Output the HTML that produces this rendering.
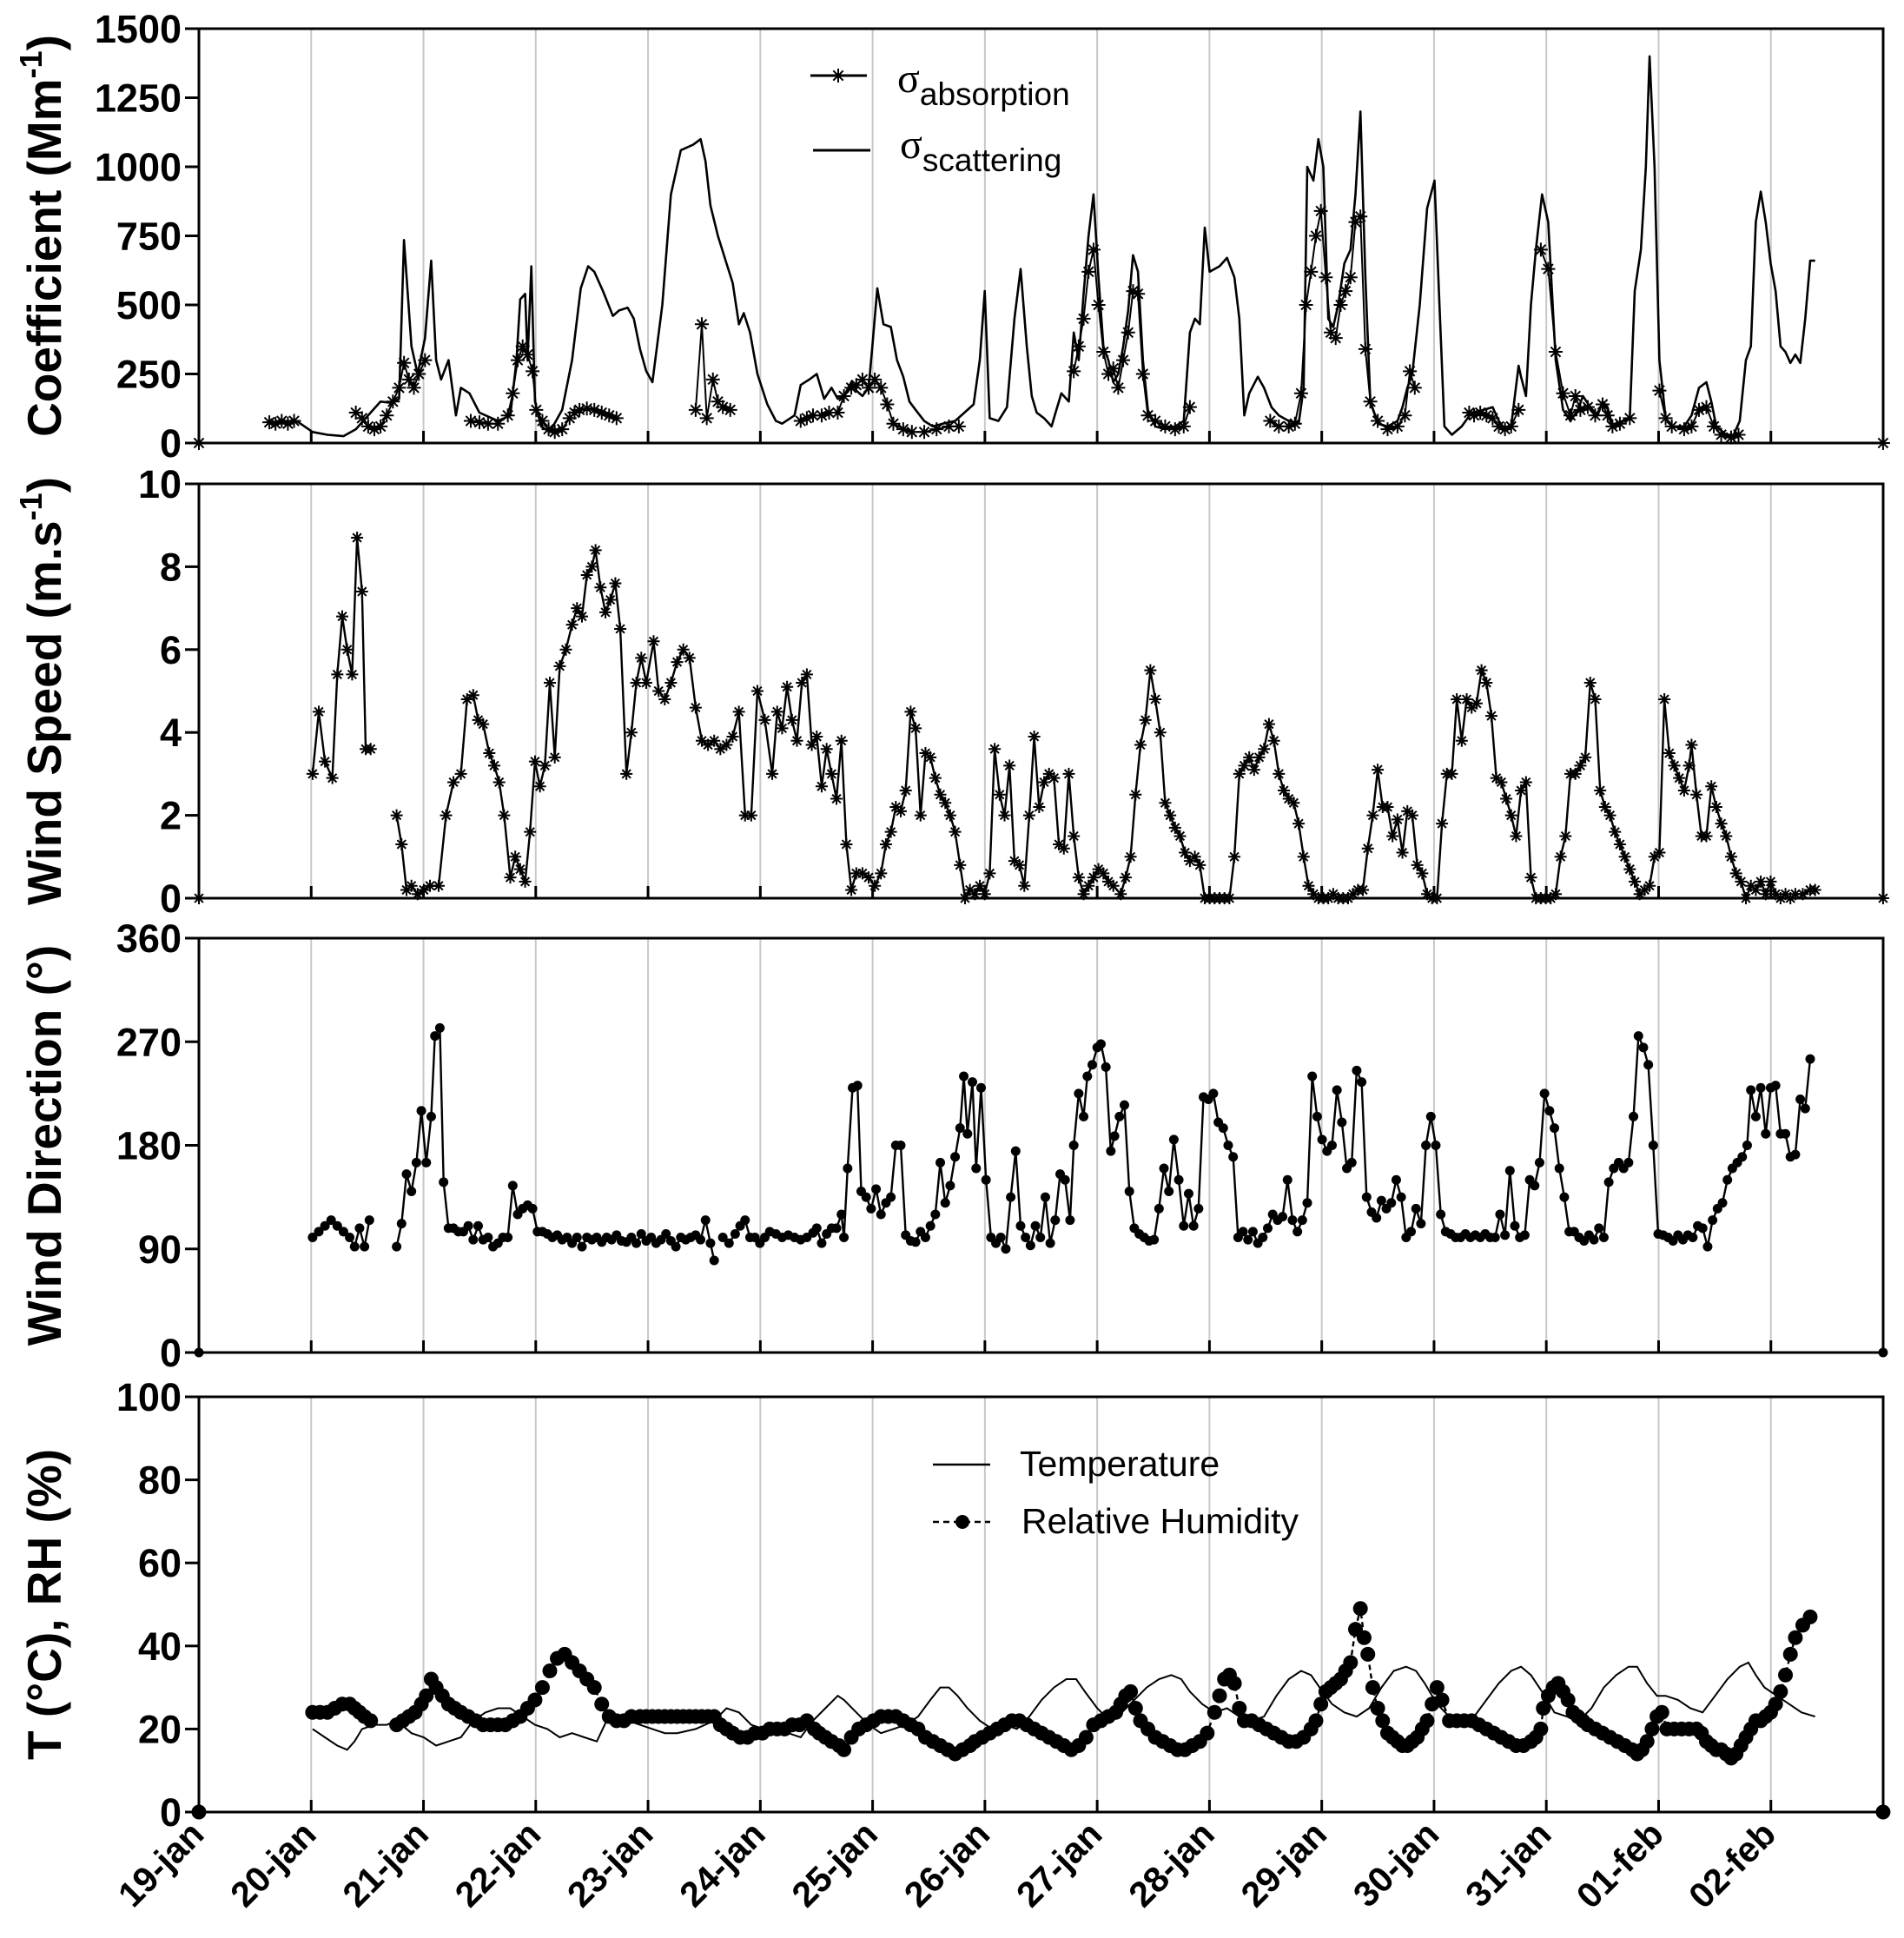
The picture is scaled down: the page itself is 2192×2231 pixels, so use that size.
<!DOCTYPE html>
<html><head><meta charset="utf-8">
<style>
html,body{margin:0;padding:0;background:#fff;}
svg{display:block;font-family:"Liberation Sans",Arial,sans-serif;}
</style></head>
<body>
<svg id="chart" width="2192" height="2231" viewBox="0 0 2192 2231" xmlns="http://www.w3.org/2000/svg">
<rect width="2192" height="2231" fill="#fff"/>
<g id="grid"></g>
<g id="axes"></g>
<g id="marks"></g>
<g id="legends">
  <g>
    <line x1="933" y1="87" x2="998" y2="87" stroke="#000" stroke-width="3"/>
    <path d="M957,87L973,87M965,79L965,95M959.3,81.3L970.7,92.7M959.3,92.7L970.7,81.3" stroke="#000" stroke-width="2" fill="none"/>
    <text x="1033" y="106" font-family="Liberation Serif, serif" font-size="48">σ<tspan font-family="Liberation Sans, sans-serif" font-size="37" dy="15">absorption</tspan></text>
  </g>
  <g>
    <line x1="936" y1="173" x2="1002" y2="173" stroke="#000" stroke-width="3"/>
    <text x="1036" y="182" font-family="Liberation Serif, serif" font-size="48">σ<tspan font-family="Liberation Sans, sans-serif" font-size="37" dy="15">scattering</tspan></text>
  </g>
  <g>
    <line x1="1074" y1="1686" x2="1140" y2="1686" stroke="#000" stroke-width="2.5"/>
    <text x="1174" y="1699" font-size="41">Temperature</text>
  </g>
  <g>
    <line x1="1074" y1="1752" x2="1140" y2="1752" stroke="#000" stroke-width="2.5" stroke-dasharray="7,5"/>
    <circle cx="1108" cy="1752" r="8" fill="#000"/>
    <text x="1176" y="1765" font-size="41">Relative Humidity</text>
  </g>
</g>
</svg>
<script>
// time values below are in chart time units: (t - 158) / 90.87 = days since 19-jan
const scatTime=[237,250,262,275,285,297,305,315,320,324,330,335,341,346,350,354,360,366,370,377,385,400,410,415,418,422,424,427,430,435,442,452,460,467,473,478,485,493,498,505,510,515,520,525,533,540,548,558,564,568,572,578,585,590,595,599,604,610,618,625,630,640,645,652,658,664,670,675,680,686,690,695,700,703,707,712,718,723,728,733,738,745,752,760,770,785,790,794,798,805,812,818,823,828,832,836,842,848,852,856,862,866,870,874,878,882,886,890,894,898,902,906,910,914,918,922,926,932,940,948,955,960,964,968,972,976,984,990,996,1000,1004,1008,1015,1020,1026,1032,1040,1048,1052,1055,1060,1064,1068,1072,1076,1080,1085,1090,1094,1098,1102,1106,1112,1120,1128,1132,1136,1140,1146,1152,1158,1162,1166,1172,1180,1188,1198,1205,1210,1215,1220,1226,1228,1232,1236,1240,1245,1250,1256,1262,1268,1274,1278,1284,1290,1294,1298,1302,1310,1316,1320,1325,1329,1332,1336,1340,1345,1350,1360,1366,1372,1378,1382,1386,1394,1400,1405,1410,1414,1418,1422,1426,1430,1434,1438,1442,1446,1450,1454,1458,1462,1466];
const scatVals=[80,40,30,25,50,110,150,145,160,735,350,250,380,660,300,230,300,100,200,180,110,80,100,300,520,540,300,640,150,60,40,120,300,560,640,620,550,460,480,490,450,340,260,220,500,900,1060,1080,1100,1020,860,750,650,580,430,470,400,250,140,80,70,100,210,230,250,160,200,160,170,220,190,170,200,350,560,430,420,300,240,150,120,80,60,70,80,140,300,550,90,80,130,450,630,350,170,110,90,60,120,180,150,400,300,540,750,900,600,350,300,220,250,350,480,680,620,300,120,60,50,60,80,400,450,430,780,620,640,670,600,450,100,180,240,200,130,100,80,70,200,1000,950,1100,1000,450,420,500,650,700,900,1200,600,150,70,60,80,130,200,250,500,850,950,500,60,30,60,110,120,130,80,50,60,280,240,170,500,700,900,800,300,120,80,120,170,130,100,150,130,60,80,90,550,700,1000,1400,1000,300,90,60,60,100,200,220,150,60,30,30,80,300,350,800,910,800,650,550,350,330,290,320,290,450,660,660];

const absSegTime=[
 [215,220,225,230,235],
 [285,290,295,300,305,310,315,320,324,328,332,336,341],
 [378,385,392,400,408,412,416,420,424,428,431,436,441,446,452,458,462,466,472,478,484,490,496],
 [560,565,569,574,578,582,588],
 [645,650,655,662,668,675,680,686,690,695,700,705,710,715,720,728,735,745,755,765,773],
 [866,870,874,878,882,886,890,894,898,902,906,910,914,918,922,926,932,940,948,955,960],
 [1025,1032,1040,1045,1050,1054,1058,1062,1066,1070,1074,1078,1082,1086,1090,1094,1098,1102,1106,1112,1120,1128,1134,1138,1142],
 [1186,1190,1195,1200,1205,1210,1215,1220,1226],
 [1244,1250,1256,1262,1268,1272,1276,1282,1288,1294,1298,1302,1308,1316],
 [1340,1345,1350,1360,1366,1372,1378,1384,1390,1398,1404],
 [158],[1521]];
const absSegVals=[
 [75,70,80,70,80],
 [110,90,60,50,60,100,150,200,290,230,200,250,300],
 [80,75,70,70,100,180,300,350,320,260,120,80,50,40,50,90,110,120,125,120,110,100,90],
 [120,430,90,230,150,130,120],
 [80,90,100,100,110,110,170,200,210,230,200,230,200,140,70,50,40,40,50,60,60],
 [260,350,450,620,700,500,330,250,270,200,300,400,550,540,250,100,80,60,50,60,130],
 [80,60,60,70,180,500,620,750,840,600,400,380,500,550,600,800,820,340,150,80,50,60,100,260,200],
 [110,100,110,100,90,60,50,60,120],
 [700,630,330,180,100,170,120,130,100,140,100,60,70,90],
 [190,90,60,50,60,120,130,60,30,20,30],
 [0],[0]];

const wsSegTime=[
 [250,255,260,266,270,274,278,282,286,290,293,297],
 [318,322,326,330,335,340,345,352,358,364,370,375,380,384,388,393,397,401,405,410,414,418,422,426,430,434,438,442,446,450,455,460,464,468,472,476,479,483,487,491,495,499,504,508,512,516,520,526,530,535,540,545,550,555,560,565,570,575,580,585,590,595,600,605,610,616,622,626,630,634,638,642,646,650,654,658,662,666,670,674,678,682,686,690,695,700,705,710,714,718,722,726,730,734,738,742,746,750,754,758,762,766,770,774,778,782,786,790,794,798,802,806,810,814,818,822,826,830,834,838,842,846,850,854,858,862,866,870,874,878,882,886,890,894,898,904,908,912,916,920,924,928,932,936,940,944,948,952,956,960,964,968,972,976,980,984,988,992,996,1000,1004,1008,1012,1016,1020,1024,1028,1032,1036,1040,1044,1048,1052,1056,1060,1064,1068,1072,1076,1080,1084,1088,1092,1096,1100,1104,1108,1112,1116,1120,1124,1128,1132,1136,1140,1144,1148,1152,1156,1160,1164,1168,1172,1176,1180,1184,1188,1192,1196,1200,1204,1208,1212,1216,1220,1224,1228,1232,1236,1240,1244,1248,1252,1256,1260,1264,1268,1272,1276,1280,1284,1288,1292,1296,1300,1304,1308,1312,1316,1320,1324,1328,1332,1336,1340,1344,1348,1352,1356,1360,1364,1366,1370,1374,1378,1382,1386,1390,1394,1398,1402,1406,1410,1414,1418,1422,1426,1430,1434,1438,1442,1446,1450,1456,1462,1466],
 [158],[1521]];
const wsSegVals=[
 [3.0,4.5,3.3,2.9,5.4,6.8,6.0,5.4,8.7,7.4,3.6,3.6],
 [2.0,1.3,0.2,0.3,0.1,0.2,0.3,0.3,2.0,2.8,3.0,4.8,4.9,4.3,4.2,3.5,3.2,2.8,2.0,0.5,1.0,0.7,0.4,1.6,3.3,2.7,3.2,5.2,3.4,5.6,6.0,6.6,7.0,6.8,7.8,8.0,8.4,7.5,6.9,7.2,7.6,6.5,3.0,4.0,5.2,5.8,5.2,6.2,5.0,4.8,5.2,5.7,6.0,5.8,4.6,3.8,3.7,3.8,3.6,3.7,3.9,4.5,2.0,2.0,5.0,4.3,3.0,4.5,4.1,5.1,4.3,3.8,5.2,5.4,3.7,3.9,2.7,3.6,3.0,2.4,3.8,1.3,0.2,0.6,0.6,0.5,0.3,0.6,1.3,1.6,2.2,2.1,2.6,4.5,4.1,2.0,3.5,3.4,2.9,2.5,2.3,2.0,1.6,0.8,0.0,0.2,0.1,0.3,0.1,0.6,3.6,2.5,2.0,3.2,0.9,0.8,0.3,2.0,3.9,2.2,2.8,3.0,2.9,1.3,1.2,3.0,1.5,0.5,0.1,0.3,0.5,0.7,0.6,0.4,0.3,0.1,0.5,1.0,2.5,3.7,4.3,5.5,4.8,4.0,2.3,2.0,1.7,1.5,1.1,0.9,1.0,0.8,0.0,0.0,0.0,0.0,0.0,0.0,1.0,3.0,3.2,3.4,3.1,3.4,3.6,4.2,3.8,3.0,2.6,2.4,2.3,1.8,1.0,0.3,0.1,0.0,0.0,0.0,0.1,0.0,0.0,0.0,0.1,0.2,0.2,1.2,2.0,3.1,2.2,2.2,1.5,1.9,1.1,2.1,2.0,0.8,0.6,0.1,0.0,0.0,1.8,3.0,3.0,4.8,3.8,4.8,4.6,4.7,5.5,5.2,4.4,2.9,2.8,2.4,2.0,1.5,2.6,2.8,0.5,0.0,0.0,0.0,0.0,0.1,1.0,1.5,3.0,3.0,3.2,3.4,5.2,4.8,2.6,2.2,2.0,1.6,1.3,1.0,0.7,0.4,0.1,0.2,0.3,1.0,1.1,4.8,3.5,3.2,2.9,2.6,3.2,3.7,2.5,1.5,1.5,2.7,2.2,1.8,1.5,1.0,0.6,0.4,0.0,0.3,0.2,0.4,0.1,0.4,0.1,0.0,0.1,0.0,0.1,0.1,0.2,0.2],
 [0],[0]];

const wdSegTime=[
 [250,255,260,265,270,275,280,284,288,292,296],
 [318,322,326,330,334,338,342,346,349,353,356,360,364,368,372,376,380,384,388,392,396,400,404,408,412,416,420,424,428,432,436,440,444,448,452,456,460,464,468,472,476,480,484,488,492,496,500,504,508,512,516,520,524,528,532,536,540,544,548,552,556,560,564,568,572,575],
 [582,587,592,596,600,604,608,612,616,620,625,630,635,640,645,650,655,658,662,666,670,674,678,680,683,687,691,694,698,702,706,710,714,718,722,726,730,734,738,742,746,750,754,758,762,766,770,774,777,780,784,787,791,795,799,803,807,811,815,819,823,827,831,835,839,843,847,851,855,859,863,866,870,874,877,881,885,888,892,896,899,903,907,911,915,919,923,927,931,935,939,943,947,951,955,959,963,967,971,975,979,983,987,991,995,999,1003,1007,1011,1015,1019,1023,1027,1031,1035,1039,1043,1047,1051,1055,1059,1063,1067,1071,1075,1079,1083,1087,1091,1095,1099,1103,1107,1111,1115,1119,1123,1127,1131,1135,1139,1143,1147,1151,1155,1159,1163,1167,1171,1175,1179,1183,1187,1191,1195,1199,1203,1207,1211,1215,1219,1223,1227,1231,1235,1239,1243,1247,1251,1255,1259,1263,1267,1271,1275,1279,1283,1287,1291,1295,1299,1303,1307,1311,1315,1319,1323,1327,1331,1335,1339,1343,1347,1351,1355,1359,1363,1367,1371,1375,1379,1383,1387,1391,1395,1399,1403,1407,1411,1414,1418,1422,1426,1430,1434,1438,1442,1446,1450,1454,1458,1462],
 [158],[1521]];
const wdSegVals=[
 [100,105,110,115,110,105,100,92,108,92,115],
 [92,112,155,140,165,210,165,205,275,282,148,108,108,105,105,110,98,110,98,100,92,95,100,100,145,120,125,128,125,105,105,103,100,102,98,100,95,100,92,100,98,100,96,100,98,102,97,96,100,95,103,97,100,95,98,103,97,92,100,98,100,102,98,115,95,80],
 [100,95,103,110,115,100,100,95,100,105,103,100,102,100,98,100,104,108,95,103,108,108,120,100,160,230,232,140,135,125,142,120,130,135,180,180,102,97,96,105,100,110,120,165,130,145,170,195,240,190,235,160,230,150,100,95,100,90,135,175,110,100,93,110,100,135,95,115,155,150,115,180,225,205,240,250,265,268,248,175,188,205,215,140,108,103,100,97,98,125,160,140,185,150,110,138,110,125,222,220,225,200,195,180,170,100,105,98,105,95,100,108,120,115,118,150,115,105,115,130,240,205,185,175,180,228,200,160,165,245,235,135,122,117,132,125,130,150,135,100,105,125,112,180,205,180,120,105,103,100,100,103,100,102,100,103,100,100,120,102,158,110,100,102,150,145,165,225,210,195,160,135,105,105,100,97,102,98,108,100,148,160,165,160,165,205,275,265,250,180,103,102,100,97,102,98,102,100,110,108,92,115,125,130,150,160,165,170,180,228,205,230,190,230,232,190,190,170,172,220,212,255],
 [0],[0]];

const tempTime=[250,260,270,278,284,290,300,310,318,330,340,350,360,370,380,390,400,410,420,430,440,450,460,470,480,488,495,505,515,525,535,545,560,575,585,595,605,615,625,635,645,655,665,675,680,690,700,710,720,730,740,750,758,765,772,780,790,800,810,820,830,840,850,860,868,875,885,895,905,915,925,935,945,953,960,970,980,990,1000,1010,1020,1030,1040,1050,1058,1065,1075,1085,1095,1105,1115,1125,1135,1143,1150,1160,1170,1180,1190,1200,1210,1220,1228,1236,1245,1255,1265,1275,1285,1295,1305,1315,1322,1330,1338,1345,1355,1365,1375,1385,1395,1405,1412,1418,1425,1435,1445,1455,1466];
const tempVals=[20,18,16,15,17,20,21,21,22,19,18,16,17,18,22,24,25,25,23,21,20,18,19,18,17,22,23,22,21,20,19,19,20,22,25,24,21,20,20,19,18,22,25,28,27,24,21,19,20,21,23,27,30,30,28,25,22,20,21,20,23,27,30,32,32,29,25,22,24,27,30,32,33,32,29,26,24,25,23,22,23,28,32,34,33,30,26,24,23,25,30,34,35,34,31,26,23,21,23,27,31,34,35,33,29,24,23,22,25,30,33,35,35,31,28,28,27,25,24,28,32,35,36,33,30,28,26,24,23];

const rhSegTime=[
 [250,256,262,268,274,280,284,288,292,297],
 [318,323,328,333,338,342,346,350,355,360,365,370,376,382,388,394,400,406,412,418,424,430,436,442,448,454,460,466,472,478,484,490,496,502,508,515,520,525,530,535,540,545,550,555,560,565,570,575],
 [580,585,590,596,602,608,614,620,626,632,638,644,650,656,660,665,670,676,680,686,692,698,704,710,716,722,728,734,740,746,752,758,764,770,776,782,786,792,798,804,810,816,822,828,834,840,846,852,858,864,870,876,882,888,894,900,904,908,912,916,920,926,932,938,944,950,956,962,968,974,980,984,988,992,996,1000,1004,1010,1016,1022,1028,1034,1040,1046,1052,1058,1062,1066,1070,1074,1078,1082,1086,1090,1094,1098,1101,1104,1108,1112,1116,1120,1124,1128,1132,1136,1140,1144,1148,1152,1156,1160,1164,1170,1176,1182,1188,1194,1200,1206,1212,1218,1224,1230,1236,1240,1244,1246,1250,1254,1258,1262,1266,1270,1274,1278,1282,1288,1294,1300,1306,1312,1318,1322,1326,1330,1334,1338,1342,1346,1352,1358,1364,1370,1374,1378,1382,1386,1390,1394,1398,1402,1406,1410,1414,1418,1422,1426,1430,1434,1438,1442,1446,1450,1456,1462],
 [158],[1521]];
const rhSegVals=[
 [24,24,24,25,26,26,25,24,23,22],
 [21,22,23,24,26,28,32,30,28,26,25,24,23,22,21,21,21,21,22,23,25,27,30,34,37,38,36,34,32,30,26,23,22,22,23,23,23,23,23,23,23,23,23,23,23,23,23,23],
 [21,20,19,18,18,19,19,20,20,20,21,21,22,20,19,18,17,16,15,18,20,21,22,23,23,23,22,21,20,18,17,16,15,14,15,16,17,18,19,20,21,22,22,21,20,19,18,17,16,15,16,18,21,22,23,24,26,28,29,25,22,20,18,17,16,15,15,16,17,19,24,28,32,33,31,25,22,22,21,20,19,18,17,17,18,20,22,26,29,30,31,32,34,36,44,49,42,38,30,25,22,19,18,17,16,16,17,18,20,22,26,30,27,22,22,22,22,21,20,19,18,17,16,16,17,18,20,25,28,30,31,29,27,24,23,22,21,20,19,18,17,16,15,14,15,17,20,23,24,20,20,20,20,20,19,17,16,15,15,14,13,14,16,18,20,22,22,23,24,26,29,33,38,42,45,47],
 [0],[0]];

const yTickCoef=[0,250,500,750,1000,1250,1500];
const yTickWS=[0,2,4,6,8,10];
const yTickWD=[0,90,180,270,360];
const yTickTRH=[0,20,40,60,80,100];
const dayLabels=["19-jan","20-jan","21-jan","22-jan","23-jan","24-jan","25-jan","26-jan","27-jan","28-jan","29-jan","30-jan","31-jan","01-feb","02-feb"];

const NS="http://www.w3.org/2000/svg";
const X0=229,X1=2168,NDAYS=15;
function toDay(t){return (t-158)/90.87;}
function xScale(day){return X0+day*(X1-X0)/NDAYS;}
const panels=[
 {top:33,bot:510,max:1500,ticks:yTickCoef,title:"Coefficient (Mm",sup:"-1",name:"coefficient"},
 {top:557,bot:1034,max:10,ticks:yTickWS,title:"Wind Speed (m.s",sup:"-1",name:"wind-speed"},
 {top:1080,bot:1557,max:360,ticks:yTickWD,title:"Wind Direction (°)",name:"wind-direction"},
 {top:1608,bot:2086,max:100,ticks:yTickTRH,title:"T (°C), RH (%)",name:"temperature-rh"}];
function yScale(p,v){return p.bot-(v/p.max)*(p.bot-p.top);}
function mk(tag,attrs,parent){const e=document.createElementNS(NS,tag);for(const k in attrs)e.setAttribute(k,attrs[k]);parent.appendChild(e);return e;}
const grid=document.getElementById('grid'),axes=document.getElementById('axes'),marks=document.getElementById('marks');

panels.forEach((p,pi)=>{
  for(let d=1;d<NDAYS;d++){
    const gl=mk('line',{x1:xScale(d),x2:xScale(d),y1:p.top,y2:p.bot,stroke:'#c8c8c8','stroke-width':2},grid);
    
    
    const tk=mk('line',{x1:xScale(d),x2:xScale(d),y1:p.bot-14,y2:p.bot,stroke:'#000','stroke-width':3},axes);
    
    
  }
  const fr=mk('rect',{x:X0,y:p.top,width:X1-X0,height:p.bot-p.top,fill:'none',stroke:'#000','stroke-width':3},axes);
  
  
  p.ticks.forEach(v=>{
    const y=yScale(p,v);
    const t=mk('line',{x1:X0-16,x2:X0,y1:y,y2:y,stroke:'#000','stroke-width':3},axes);
    
    
    const tx=mk('text',{x:X0-20,y:y+16,'text-anchor':'end','font-size':45,'font-weight':'bold'},axes);
    tx.textContent=v;
    
    
  });
  const cy=(p.top+p.bot)/2;
  const tt=mk('text',{x:0,y:0,'text-anchor':'middle','font-size':55,'font-weight':'bold',transform:`translate(70,${cy}) rotate(-90)`},axes);
  tt.textContent=p.title;
  if(p.sup){const s=mk('tspan',{'font-size':36,dy:-22},tt);s.textContent=p.sup;const c=mk('tspan',{dy:22},tt);c.textContent=")";}
  
  
});
dayLabels.forEach((lab,i)=>{
  const x=xScale(i)+8;
  const t=mk('text',{x:0,y:0,'text-anchor':'end','font-size':41,'font-weight':'bold',transform:`translate(${x},2114) rotate(-45)`},axes);
  t.textContent=lab;
  
  
});

function linePath(p,ts,vs){return ts.map((t,i)=>(i?'L':'M')+xScale(toDay(t)).toFixed(1)+','+yScale(p,vs[i]).toFixed(1)).join('');}
function star(g,x,y,r){
  const d=`M${x-r},${y}L${x+r},${y}M${x},${y-r}L${x},${y+r}M${x-r*.7},${y-r*.7}L${x+r*.7},${y+r*.7}M${x-r*.7},${y+r*.7}L${x+r*.7},${y-r*.7}`;
  const s=mk('path',{d:d,stroke:'#000','stroke-width':2,fill:'none'},g);
  
  
}
{
 const p=panels[0];
 const sc=mk('path',{d:linePath(p,scatTime,scatVals),fill:'none',stroke:'#000','stroke-width':2.6,'stroke-linejoin':'round'},marks);
 
 
 const g=mk('g',{},marks);
 
 
 absSegTime.forEach((ts,si)=>{
  const vs=absSegVals[si];
  if(ts.length>1){const l=mk('path',{d:linePath(p,ts,vs),fill:'none',stroke:'#000','stroke-width':2},g);}
  ts.forEach((t,i)=>star(g,xScale(toDay(t)),yScale(p,vs[i]),8));
 });
}
{
 const p=panels[1];
 const g=mk('g',{},marks);
 
 
 wsSegTime.forEach((ts,si)=>{
  const vs=wsSegVals[si];
  if(ts.length>1){const l=mk('path',{d:linePath(p,ts,vs),fill:'none',stroke:'#000','stroke-width':2.4},g);}
  ts.forEach((t,i)=>star(g,xScale(toDay(t)),yScale(p,vs[i]),7));
 });
}
{
 const p=panels[2];
 const g=mk('g',{},marks);
 
 
 wdSegTime.forEach((ts,si)=>{
  const vs=wdSegVals[si];
  if(ts.length>1){const l=mk('path',{d:linePath(p,ts,vs),fill:'none',stroke:'#000','stroke-width':2.4},g);}
  ts.forEach((t,i)=>{const c=mk('circle',{cx:xScale(toDay(t)),cy:yScale(p,vs[i]),r:5.5,fill:'#000'},g);
   
   });
 });
}
{
 const p=panels[3];
 const tl=mk('path',{d:linePath(p,tempTime,tempVals),fill:'none',stroke:'#000','stroke-width':2},marks);
 
 
 const g=mk('g',{},marks);
 
 
 rhSegTime.forEach((ts,si)=>{
  const vs=rhSegVals[si];
  if(ts.length>1){const l=mk('path',{d:linePath(p,ts,vs),fill:'none',stroke:'#000','stroke-width':2.4,'stroke-dasharray':'6,4'},g);}
  ts.forEach((t,i)=>{const c=mk('circle',{cx:xScale(toDay(t)),cy:yScale(p,vs[i]),r:8.5,fill:'#000'},g);
   
   });
 });
}
</script>
</body></html>
